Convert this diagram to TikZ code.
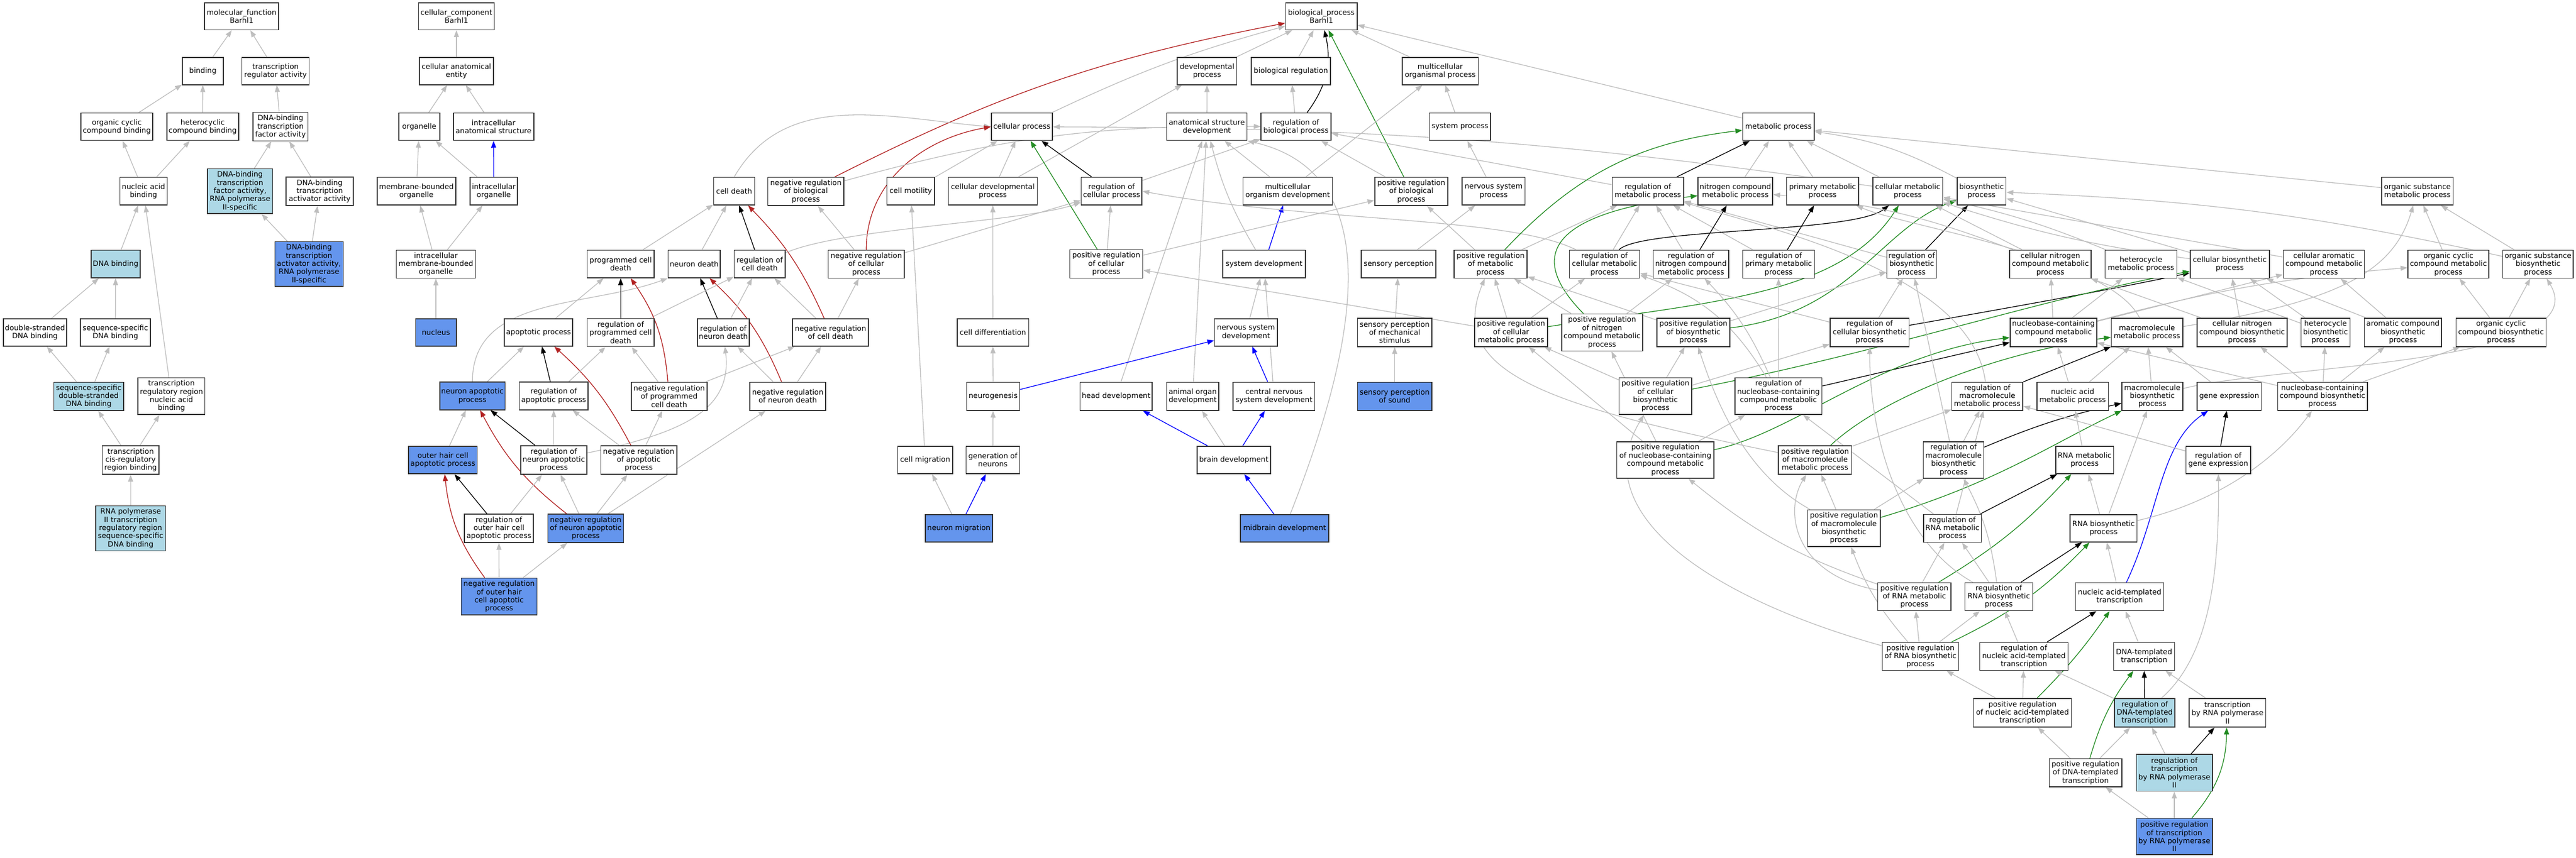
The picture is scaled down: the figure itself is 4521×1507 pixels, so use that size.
\documentclass[tikz,border=0pt]{standalone}
\usepackage{fontspec}
\usetikzlibrary{arrows.meta,backgrounds}
\newfontfamily\djv{DejaVu Sans}
\definecolor{edgegray}{RGB}{190,190,190}
\definecolor{lbcol}{RGB}{173,216,230}
\definecolor{blcol}{RGB}{100,149,237}
\definecolor{redc}{RGB}{178,34,34}
\definecolor{greenc}{RGB}{34,139,34}
\tikzset{
 pl/.style={draw=black!80, line width=0.8pt, fill=white, inner sep=0pt, align=center, font=\djv\fontsize{6.4}{7.2}\selectfont},
 lb/.style={pl, fill=lbcol},
 bl/.style={pl, fill=blcol},
 ebase/.style={line width=0.65pt, -{Triangle[length=6pt,width=4.4pt]}},
 eg/.style={ebase, draw=edgegray},
 ek/.style={ebase, draw=black},
 er/.style={ebase, draw=redc},
 egr/.style={ebase, draw=greenc},
 eblu/.style={ebase, draw=blue},
}
\newcommand\gn[7]{\node[#2,minimum width=#5*0.5pt,minimum height=#6*0.5pt] (#1) at (#3,-#4) {#7};}
\begin{document}
\begin{tikzpicture}[x=0.5pt,y=0.5pt]
\useasboundingbox (0,0) rectangle (4521,-1507);
% ---------- molecular function ----------
\gn{mf}{pl}{424}{28.6}{130}{47.5}{molecular\_function\\Barhl1}
\gn{binding}{pl}{356}{124.8}{72}{48}{binding}
\gn{tra}{pl}{483.6}{124.8}{118}{48}{transcription\\regulator activity}
\gn{occb}{pl}{205}{222.7}{126}{48}{organic cyclic\\compound binding}
\gn{hcb}{pl}{355.7}{222.7}{126}{48}{heterocyclic\\compound binding}
\gn{dbtf}{pl}{492.2}{222.7}{96.6}{50}{DNA-binding\\transcription\\factor activity}
\gn{nab}{pl}{251.9}{335.9}{83}{48.5}{nucleic acid\\binding}
\gn{dbtf2}{lb}{421.2}{335.9}{114.5}{78.5}{DNA-binding\\transcription\\factor activity,\\RNA polymerase\\II-specific}
\gn{dbta}{pl}{561}{335.9}{117.5}{50}{DNA-binding\\transcription\\activator activity}
\gn{dnab}{lb}{202.9}{463.8}{85.7}{48.5}{DNA binding}
\gn{dbta2}{bl}{542.3}{463.9}{120}{78.5}{DNA-binding\\transcription\\activator activity,\\RNA polymerase\\II-specific}
\gn{dsdb}{pl}{61.3}{583.8}{111}{48}{double-stranded\\DNA binding}
\gn{ssdb}{pl}{202.5}{583.8}{122.5}{48}{sequence-specific\\DNA binding}
\gn{ssds}{lb}{155.7}{696}{122.5}{49.4}{sequence-specific\\double-stranded\\DNA binding}
\gn{trrnab}{pl}{300.9}{695.8}{117.5}{64.5}{transcription\\regulatory region\\nucleic acid\\binding}
\gn{tcrrb}{pl}{229.2}{807.9}{99.5}{50.2}{transcription\\cis-regulatory\\region binding}
\gn{rnaprr}{lb}{229.2}{928}{122.5}{78.7}{RNA polymerase\\II transcription\\regulatory region\\sequence-specific\\DNA binding}
% ---------- cellular component ----------
\gn{cc}{pl}{801}{28.6}{133}{47.5}{cellular\_component\\Barhl1}
\gn{cae}{pl}{801}{124.8}{130}{48}{cellular anatomical\\entity}
\gn{organelle}{pl}{735.8}{222.7}{72}{48}{organelle}
\gn{ias}{pl}{866.2}{222.7}{141}{48}{intracellular\\anatomical structure}
\gn{mbo}{pl}{730.8}{335.9}{138}{48.5}{membrane-bounded\\organelle}
\gn{io}{pl}{866.6}{335.9}{83}{48.5}{intracellular\\organelle}
\gn{imbo}{pl}{765}{464}{139}{49}{intracellular\\membrane-bounded\\organelle}
\gn{nucleus}{bl}{765}{583.8}{71.4}{48}{nucleus}
% ---------- biological process ----------
\gn{bp}{pl}{2319}{28.6}{125.4}{47.5}{biological\_process\\Barhl1}
\gn{devp}{pl}{2118.4}{124.8}{104.5}{48}{developmental\\process}
\gn{breg}{pl}{2265.5}{124.8}{139}{48}{biological regulation}
\gn{mop}{pl}{2527.7}{124.8}{133.4}{48}{multicellular\\organismal process}
\gn{cp}{pl}{1793.4}{222.7}{107.4}{48}{cellular process}
\gn{asd}{pl}{2118}{222.7}{141.3}{48}{anatomical structure\\development}
\gn{rbp}{pl}{2274.5}{222.7}{122.5}{48}{regulation of\\biological process}
\gn{sysp}{pl}{2562.3}{222.7}{107.4}{48}{system process}
\gn{metp}{pl}{3121.2}{222.7}{125.4}{48}{metabolic process}
\gn{celldeath}{pl}{1288.5}{335.9}{72}{48.5}{cell death}
\gn{nrbp}{pl}{1414.3}{336.4}{133.3}{49.5}{negative regulation\\of biological\\process}
\gn{cellmot}{pl}{1598.4}{335.9}{83.6}{48.5}{cell motility}
\gn{cdp}{pl}{1742.5}{335.9}{155.7}{48.5}{cellular developmental\\process}
\gn{rcp}{pl}{1950.9}{335.9}{106.7}{48.5}{regulation of\\cellular process}
\gn{mod}{pl}{2260}{335.9}{157}{48.5}{multicellular\\organism development}
\gn{prbp}{pl}{2476.9}{336.4}{128.3}{49.5}{positive regulation\\of biological\\process}
\gn{nsp}{pl}{2621.4}{335.9}{110.3}{48.5}{nervous system\\process}
\gn{rmp}{pl}{2892}{335.9}{125.4}{48.5}{regulation of\\metabolic process}
\gn{ncmp}{pl}{3045.6}{335.9}{131.2}{48.5}{nitrogen compound\\metabolic process}
\gn{pmp}{pl}{3198.7}{335.9}{126.1}{48.5}{primary metabolic\\process}
\gn{cmp}{pl}{3348.2}{335.9}{122.5}{48.5}{cellular metabolic\\process}
\gn{bsp}{pl}{3477.7}{335.9}{85.8}{48.5}{biosynthetic\\process}
\gn{osmp}{pl}{4242.6}{335.9}{125.5}{48.5}{organic substance\\metabolic process}
\gn{pcd}{pl}{1089.3}{463.8}{117.4}{48.5}{programmed cell\\death}
\gn{ndeath}{pl}{1218.3}{463.8}{91.5}{48.5}{neuron death}
\gn{rcd}{pl}{1333.2}{463.8}{89.4}{48.5}{regulation of\\cell death}
\gn{nrcp}{pl}{1520.3}{464.1}{133.3}{49}{negative regulation\\of cellular\\process}
\gn{prcp}{pl}{1941.5}{463.6}{128.3}{50}{positive regulation\\of cellular\\process}
\gn{sysdev}{pl}{2218.5}{463.8}{145}{48.5}{system development}
\gn{sensp}{pl}{2454.6}{463.8}{131.2}{48.5}{sensory perception}
\gn{prmp}{pl}{2616}{464.1}{128.3}{49}{positive regulation\\of metabolic\\process}
\gn{rcmp}{pl}{2816}{464.1}{123.2}{49}{regulation of\\cellular metabolic\\process}
\gn{rncmp}{pl}{2967.7}{464.1}{132.6}{49}{regulation of\\nitrogen compound\\metabolic process}
\gn{rpmp}{pl}{3121.5}{464.1}{126.1}{49}{regulation of\\primary metabolic\\process}
\gn{rbsp}{pl}{3355}{464.1}{87}{49}{regulation of\\biosynthetic\\process}
\gn{cncmp}{pl}{3598.5}{464.1}{142.9}{49}{cellular nitrogen\\compound metabolic\\process}
\gn{hmp}{pl}{3757.5}{464.1}{126.2}{49}{heterocycle\\metabolic process}
\gn{cbp}{pl}{3913.3}{464.1}{139.2}{49}{cellular biosynthetic\\process}
\gn{camp}{pl}{4078.5}{464.1}{142.1}{49}{cellular aromatic\\compound metabolic\\process}
\gn{occmp}{pl}{4297}{464.1}{142.1}{49}{organic cyclic\\compound metabolic\\process}
\gn{osbp}{pl}{4454.3}{464.1}{123.4}{49}{organic substance\\biosynthetic\\process}
\gn{apop}{pl}{945.2}{583.8}{120}{48}{apoptotic process}
\gn{rpcd}{pl}{1089.3}{584.2}{117.4}{49}{regulation of\\programmed cell\\death}
\gn{rnd}{pl}{1269.5}{583.8}{91.5}{48}{regulation of\\neuron death}
\gn{nrcd}{pl}{1457.6}{583.8}{133.3}{48}{negative regulation\\of cell death}
\gn{celldiff}{pl}{1742.6}{583.8}{125.4}{48}{cell differentiation}
\gn{nsd}{pl}{2186.8}{583.8}{110.3}{48}{nervous system\\development}
\gn{spms}{pl}{2447.7}{583.8}{130.5}{50}{sensory perception\\of mechanical\\stimulus}
\gn{prcmp}{pl}{2652}{583.8}{128.3}{50}{positive regulation\\of cellular\\metabolic process}
\gn{prncmp}{pl}{2811.7}{584}{142}{65}{positive regulation\\of nitrogen\\compound metabolic\\process}
\gn{prbsp}{pl}{2972}{583.8}{128.3}{50}{positive regulation\\of biosynthetic\\process}
\gn{rcbp}{pl}{3281.2}{583.8}{138.4}{50}{regulation of\\cellular biosynthetic\\process}
\gn{nbcmp}{pl}{3603.9}{583.8}{152.2}{50}{nucleobase-containing\\compound metabolic\\process}
\gn{mmp}{pl}{3768}{583.8}{125.5}{50}{macromolecule\\metabolic process}
\gn{cncbp}{pl}{3935}{583.8}{158}{50}{cellular nitrogen\\compound biosynthetic\\process}
\gn{hbp}{pl}{4081.4}{583.8}{85.8}{50}{heterocycle\\biosynthetic\\process}
\gn{acbp}{pl}{4217.3}{583.8}{135.6}{50}{aromatic compound\\biosynthetic\\process}
\gn{occbp}{pl}{4389.4}{583.8}{158}{50}{organic cyclic\\compound biosynthetic\\process}
\gn{nap}{bl}{829.1}{695.5}{114.6}{48.5}{neuron apoptotic\\process}
\gn{rap}{pl}{971.8}{695.5}{120.4}{48.5}{regulation of\\apoptotic process}
\gn{nrpcd}{pl}{1174.4}{696}{133.3}{49.4}{negative regulation\\of programmed\\cell death}
\gn{nrnd}{pl}{1382.6}{696}{133.3}{49.4}{negative regulation\\of neuron death}
\gn{neurogen}{pl}{1743}{696}{93}{49.4}{neurogenesis}
\gn{headdev}{pl}{1958.8}{696}{126.8}{49.4}{head development}
\gn{aod}{pl}{2093.2}{696}{91.5}{49.4}{animal organ\\development}
\gn{cnsd}{pl}{2235.9}{696}{143.4}{49.4}{central nervous\\system development}
\gn{sps}{bl}{2447.7}{696}{130.5}{49.4}{sensory perception\\of sound}
\gn{prcbp}{pl}{2905.4}{695.8}{127.5}{64.5}{positive regulation\\of cellular\\biosynthetic\\process}
\gn{rnbcmp}{pl}{3121.2}{695.8}{152.8}{64.5}{regulation of\\nucleobase-containing\\compound metabolic\\process}
\gn{rmmp}{pl}{3487.7}{696}{124.8}{49.4}{regulation of\\macromolecule\\metabolic process}
\gn{namp}{pl}{3637.5}{696}{125.5}{49.4}{nucleic acid\\metabolic process}
\gn{mbp}{pl}{3777.4}{696}{106.7}{49.4}{macromolecule\\biosynthetic\\process}
\gn{geneexp}{pl}{3912.3}{696}{112.5}{49.4}{gene expression}
\gn{nbcbp}{pl}{4076}{696}{157.3}{49.4}{nucleobase-containing\\compound biosynthetic\\process}
\gn{ohc}{bl}{777.3}{808}{120.3}{48.3}{outer hair cell\\apoptotic process}
\gn{rnap}{pl}{971.8}{808}{116}{50}{regulation of\\neuron apoptotic\\process}
\gn{nrap}{pl}{1121}{808}{133.4}{50}{negative regulation\\of apoptotic\\process}
\gn{cellmig}{pl}{1623.7}{808}{96.6}{48.3}{cell migration}
\gn{gon}{pl}{1742.5}{808}{93.7}{48.3}{generation of\\neurons}
\gn{braindev}{pl}{2165.3}{808}{129}{48.3}{brain development}
\gn{prnbcmp}{pl}{2922.7}{808}{170.8}{63.7}{positive regulation\\of nucleobase-containing\\compound metabolic\\process}
\gn{prmmp}{pl}{3185.4}{808}{128.3}{50}{positive regulation\\of macromolecule\\metabolic process}
\gn{rmbp}{pl}{3428.6}{808}{106}{63.7}{regulation of\\macromolecule\\biosynthetic\\process}
\gn{rnamp}{pl}{3658.6}{808}{101.7}{48.3}{RNA metabolic\\process}
\gn{rge}{pl}{3893.1}{808}{113.2}{48.3}{regulation of\\gene expression}
\gn{rohc}{pl}{875.6}{928}{121}{49.8}{regulation of\\outer hair cell\\apoptotic process}
\gn{nrnap}{bl}{1028}{928}{133.3}{49.8}{negative regulation\\of neuron apoptotic\\process}
\gn{nmig}{bl}{1682.8}{928}{118}{48}{neuron migration}
\gn{midbrain}{bl}{2254.5}{928}{155}{48}{midbrain development}
\gn{prmbp}{pl}{3236.2}{927.7}{127.6}{64.7}{positive regulation\\of macromolecule\\biosynthetic\\process}
\gn{rrnamp}{pl}{3426.5}{928}{101.7}{48.8}{regulation of\\RNA metabolic\\process}
\gn{rnabp}{pl}{3691.8}{928}{117.6}{48}{RNA biosynthetic\\process}
\gn{nrohc}{bl}{876}{1047.8}{133.3}{64.7}{negative regulation\\of outer hair\\cell apoptotic\\process}
\gn{prrnamp}{pl}{3359.8}{1048}{128.3}{49.2}{positive regulation\\of RNA metabolic\\process}
\gn{rrnabp}{pl}{3507.9}{1048}{119}{49.2}{regulation of\\RNA biosynthetic\\process}
\gn{natt}{pl}{3720}{1048}{155}{49.2}{nucleic acid-templated\\transcription}
\gn{prrnabp}{pl}{3370.5}{1153}{134}{49.2}{positive regulation\\of RNA biosynthetic\\process}
\gn{rnatt}{pl}{3552}{1153}{155}{49.2}{regulation of\\nucleic acid-templated\\transcription}
\gn{dtt}{pl}{3762.9}{1153}{106.8}{49.2}{DNA-templated\\transcription}
\gn{prnatt}{pl}{3549.4}{1252}{171.7}{50.2}{positive regulation\\of nucleic acid-templated\\transcription}
\gn{rdtt}{lb}{3764}{1252}{106}{50.2}{regulation of\\DNA-templated\\transcription}
\gn{trp}{pl}{3909.3}{1252}{134.2}{50.2}{transcription\\by RNA polymerase\\II}
\gn{prdtt}{pl}{3660.1}{1357.3}{127.7}{49.3}{positive regulation\\of DNA-templated\\transcription}
\gn{rtrp}{lb}{3816}{1357.3}{133.4}{64.7}{regulation of\\transcription\\by RNA polymerase\\II}
\gn{prtrp}{bl}{3816}{1469.4}{133.4}{63.7}{positive regulation\\of transcription\\by RNA polymerase\\II}
\begin{pgfonlayer}{background}
% MF
\draw[eg] (binding) -- (mf);
\draw[eg] (tra) -- (mf);
\draw[eg] (occb) -- (binding);
\draw[eg] (hcb) -- (binding);
\draw[eg] (dbtf) -- (tra);
\draw[eg] (nab) -- (occb);
\draw[eg] (nab) -- (hcb);
\draw[eg] (dbtf2) -- (dbtf);
\draw[eg] (dbta) -- (dbtf);
\draw[eg] (dbta2) -- (dbtf2);
\draw[eg] (dbta2) -- (dbta);
\draw[eg] (dnab) -- (nab);
\draw[eg] (trrnab) -- (nab);
\draw[eg] (dsdb) -- (dnab);
\draw[eg] (ssdb) -- (dnab);
\draw[eg] (ssds) -- (dsdb);
\draw[eg] (ssds) -- (ssdb);
\draw[eg] (tcrrb) -- (ssds);
\draw[eg] (tcrrb) -- (trrnab);
\draw[eg] (rnaprr) -- (tcrrb);
% CC
\draw[eg] (cae) -- (cc);
\draw[eg] (organelle) -- (cae);
\draw[eg] (ias) -- (cae);
\draw[eg] (mbo) -- (organelle);
\draw[eg] (io) -- (organelle);
\draw[eblu] (io) -- (ias);
\draw[eg] (imbo) -- (mbo);
\draw[eg] (imbo) -- (io);
\draw[eg] (nucleus) -- (imbo);
% BP upper
\draw[er] (nrbp) to[bend left=8] (bp);
\draw[eg] (cp) to[bend left=5] (bp);
\draw[eg] (devp) -- (bp);
\draw[eg] (breg) -- (bp);
\draw[ek] (rbp) to[bend right=25] (bp);
\draw[egr] (prbp) -- (bp);
\draw[eg] (mop) -- (bp);
\draw[eg] (metp) -- (bp);
\draw[eg] (rbp) -- (breg);
\draw[eg] (asd) -- (devp);
\draw[eg] (cdp) -- (devp);
\draw[eg] (celldeath.north) to[out=60,in=175] (cp.west);
\draw[er] (nrcp.north) to[out=90,in=190] (cp.west);
\draw[eg] (cellmot) -- (cp);
\draw[eg] (cdp) -- (cp);
\draw[egr] (prcp) -- (cp);
\draw[ek] (rcp) -- (cp);
\draw[eg] (cmp) to[bend right=4] (cp);
\draw[eg] (nrbp) to[bend left=8] (rbp);
\draw[eg] (rcp) -- (rbp);
\draw[eg] (prbp) -- (rbp);
\draw[eg] (rmp) -- (rbp);
\draw[eg] (mod) -- (mop);
\draw[eg] (sysp) -- (mop);
\draw[eg] (mod) -- (asd);
\draw[eg] (sysdev) to[bend left=8] (asd);
\draw[eg] (headdev) -- (asd);
\draw[eg] (aod) -- (asd);
\draw[eg] (midbrain) .. controls (2400,-560) and (2420,-300) .. (asd.south east);
\draw[eblu] (sysdev) -- (mod);
\draw[eg] (nsd) -- (sysdev);
\draw[eg] (cnsd) -- (sysdev);
\draw[eblu] (cnsd) -- (nsd);
\draw[eblu] (neurogen) -- (nsd);
\draw[eblu] (braindev) -- (headdev);
\draw[eblu] (braindev) -- (cnsd);
\draw[eg] (braindev) -- (aod);
\draw[eblu] (midbrain) -- (braindev);
\draw[eg] (nsp) -- (sysp);
\draw[eg] (sensp) -- (nsp);
\draw[eg] (spms) -- (sensp);
\draw[eg] (sps) -- (spms);
\draw[eg] (cellmig) -- (cellmot);
\draw[eg] (nmig) -- (cellmig);
\draw[eblu] (nmig) -- (gon);
\draw[eg] (gon) -- (neurogen);
\draw[eg] (neurogen) -- (celldiff);
\draw[eg] (celldiff) -- (cdp);
\draw[eg] (prcp) -- (prbp);
\draw[eg] (prcp) -- (rcp);
\draw[eg] (rcmp) .. controls (2650,-380) and (2300,-390) .. (rcp.east);
\draw[eg] (prcmp) -- (prcp);
\draw[eg] (nrcp) -- (nrbp);
\draw[eg] (nrcp) -- (rcp);
% death / apoptosis
\draw[eg] (pcd) -- (celldeath);
\draw[eg] (ndeath) -- (celldeath);
\draw[ek] (rcd) -- (celldeath);
\draw[er] (nrcd) to[bend right=10] (celldeath);
\draw[eg] (nap.north) to[out=90,in=200] (ndeath.south west);
\draw[ek] (rnd) -- (ndeath);
\draw[er] (nrnd) to[bend right=12] (ndeath);
\draw[eg] (rpcd) -- (rcd);
\draw[eg] (rnd) -- (rcd);
\draw[eg] (nrcd) -- (rcd);
\draw[eg] (rcd) .. controls (1480,-400) and (1800,-390) .. (rcp);
\draw[eg] (nrcd) -- (nrcp);
\draw[eg] (nrpcd) -- (nrcd);
\draw[eg] (nrnd) -- (nrcd);
\draw[eg] (rnap) .. controls (1200,-760) and (1285,-720) .. (rnd);
\draw[eg] (nrnd) -- (rnd);
\draw[eg] (nrnap) -- (nrnd);
\draw[eg] (nrap) -- (nrpcd);
\draw[er] (nrpcd) to[bend right=15] (pcd);
\draw[eg] (nrpcd) -- (rpcd);
\draw[eg] (apop) -- (pcd);
\draw[ek] (rpcd) -- (pcd);
\draw[eg] (nap) -- (apop);
\draw[ek] (rap) -- (apop);
\draw[er] (nrap) to[bend right=10] (apop);
\draw[eg] (rap) -- (rpcd);
\draw[eg] (ohc) -- (nap);
\draw[er] (nrnap) to[bend left=12] (nap);
\draw[ek] (rnap) -- (nap);
\draw[eg] (rnap) -- (rap);
\draw[eg] (nrap) -- (rap);
\draw[ek] (rohc) -- (ohc);
\draw[er] (nrohc) to[bend left=15] (ohc);
\draw[eg] (rohc) -- (rnap);
\draw[eg] (nrnap) -- (rnap);
\draw[eg] (nrnap) -- (nrap);
\draw[eg] (nrohc) -- (rohc);
\draw[eg] (nrohc) -- (nrnap);
% metabolism
\draw[ek] (rmp) -- (metp);
\draw[eg] (ncmp) -- (metp);
\draw[eg] (pmp) -- (metp);
\draw[eg] (cmp) -- (metp);
\draw[egr] (prmp) to[bend left=20] (metp);
\draw[eg] (osmp) -- (metp);
\draw[eg] (bsp) to[bend right=10] (metp);
\draw[eg] (prmp) -- (rmp);
\draw[eg] (prmp) -- (prbp);
\draw[eg] (rcmp) -- (rmp);
\draw[eg] (rncmp) -- (rmp);
\draw[eg] (rpmp) -- (rmp);
\draw[eg] (rbsp) -- (rmp);
\draw[ek] (rncmp) -- (ncmp);
\draw[ek] (rpmp) -- (pmp);
\draw[ek] (rcmp) .. controls (2880,-400) and (3250,-410) .. (cmp);
\draw[egr] (prncmp) .. controls (2660,-430) and (2760,-370) .. (ncmp);
\draw[egr] (prcmp) .. controls (3000,-530) and (3230,-520) .. (cmp);
\draw[egr] (prbsp) .. controls (3250,-550) and (3300,-400) .. (bsp);
\draw[ek] (rbsp) -- (bsp);
\draw[eg] (prbsp) -- (rbsp);
\draw[eg] (rcbp) -- (rbsp);
\draw[eg] (rcbp) -- (rcmp);
\draw[ek] (rcbp) .. controls (3500,-545) and (3700,-510) .. (cbp);
\draw[eg] (prcbp) -- (prbsp);
\draw[eg] (prcbp) -- (prcmp);
\draw[eg] (prcbp) -- (rcbp);
\draw[egr] (prcbp) .. controls (3300,-620) and (3600,-520) .. (cbp);
\draw[eg] (rnbcmp) to[bend right=20] (rcmp);
\draw[eg] (rnbcmp) to[bend right=10] (rncmp);
\draw[eg] (rnbcmp) -- (rpmp);
\draw[ek] (rnbcmp) -- (nbcmp);
\draw[eg] (prncmp) -- (prmp);
\draw[eg] (prncmp) -- (rncmp);
\draw[eg] (prbsp) -- (prmp);
\draw[eg] (prcmp) -- (prmp);
\draw[eg] (prcmp) -- (rcmp);
\draw[eg] (prnbcmp) -- (prcmp);
\draw[eg] (prnbcmp) -- (prncmp);
\draw[eg] (prnbcmp) -- (rnbcmp);
\draw[egr] (prnbcmp) .. controls (3150,-760) and (3300,-620) .. (nbcmp);
\draw[eg] (prmmp) .. controls (2700,-710) and (2540,-650) .. (prmp);
\draw[eg] (prmmp) -- (rmmp);
\draw[egr] (prmmp) .. controls (3300,-700) and (3500,-620) .. (mmp);
\draw[eg] (rmbp) -- (rbsp);
\draw[eg] (rmbp) -- (rmmp);
\draw[ek] (rmbp) to[bend left=5] (mbp);
\draw[eg] (prmbp) .. controls (3060,-830) and (3010,-700) .. (prbsp);
\draw[eg] (prmbp) -- (prmmp);
\draw[eg] (prmbp) -- (rmbp);
\draw[egr] (prmbp) .. controls (3500,-850) and (3600,-780) .. (mbp);
\draw[ek] (rrnamp) -- (rnamp);
\draw[eg] (rrnamp) -- (rnbcmp);
\draw[eg] (rrnamp) -- (rmmp);
\draw[eg] (prrnamp) -- (rrnamp);
\draw[egr] (prrnamp) to[bend right=8] (rnamp);
\draw[eg] (prrnamp) .. controls (3150,-1010) and (3130,-900) .. (prmmp);
\draw[eg] (prrnamp) to[bend left=10] (prnbcmp);
\draw[eg] (prrnabp) to[bend left=10] (prmbp);
\draw[eg] (prrnabp) -- (prrnamp);
\draw[eg] (prrnabp) -- (rrnabp);
\draw[eg] (prrnabp) .. controls (3000,-1050) and (2780,-900) .. (prcbp);
\draw[egr] (prrnabp) to[bend right=10] (rnabp);
\draw[eg] (rrnabp) to[bend right=10] (rmbp);
\draw[eg] (rrnabp) -- (rrnamp);
\draw[ek] (rrnabp) -- (rnabp);
\draw[eg] (rrnabp) .. controls (3350,-960) and (3282,-800) .. (rcbp);
\draw[ek] (rnatt) -- (natt);
\draw[eg] (rnatt) -- (rrnabp);
\draw[eg] (natt) -- (rnabp);
\draw[eblu] (natt) .. controls (3790,-900) and (3790,-780) .. (geneexp);
\draw[eg] (dtt) -- (natt);
\draw[eg] (prnatt) -- (prrnabp);
\draw[eg] (prnatt) -- (rnatt);
\draw[egr] (prnatt) to[bend right=5] (natt);
\draw[ek] (rdtt) -- (dtt);
\draw[eg] (rdtt) -- (rnatt);
\draw[eg] (rdtt) .. controls (3880,-1150) and (3895,-1000) .. (rge);
\draw[eg] (trp) -- (dtt);
\draw[eg] (prdtt) -- (prnatt);
\draw[eg] (prdtt) -- (rdtt);
\draw[egr] (prdtt) to[bend left=10] (dtt);
\draw[eg] (rtrp) -- (rdtt);
\draw[ek] (rtrp) -- (trp);
\draw[eg] (prtrp) -- (prdtt);
\draw[eg] (prtrp) -- (rtrp);
\draw[egr] (prtrp) to[bend right=20] (trp);
\draw[eg] (rnabp) -- (rnamp);
\draw[eg] (rnabp) -- (mbp);
\draw[eg] (rnabp) .. controls (3900,-880) and (4000,-800) .. (nbcbp);
\draw[eg] (rnamp) -- (namp);
\draw[ek] (rge) -- (geneexp);
\draw[eg] (rge) -- (rmmp);
\draw[eg] (rmmp) .. controls (3460,-480) and (3100,-400) .. (rmp);
\draw[ek] (rmmp) -- (mmp);
\draw[eg] (namp) -- (nbcmp);
\draw[eg] (namp) -- (mmp);
\draw[eg] (mbp) -- (mmp);
\draw[eg] (mbp) .. controls (4000,-640) and (4560,-640) .. (osbp);
\draw[eg] (geneexp) -- (mmp);
\draw[eg] (nbcbp) -- (nbcmp);
\draw[eg] (nbcbp) -- (cncbp);
\draw[eg] (nbcbp) -- (hbp);
\draw[eg] (nbcbp) -- (acbp);
\draw[eg] (nbcbp) -- (occbp);
\draw[eg] (nbcmp) -- (cncmp);
\draw[eg] (nbcmp) -- (hmp);
\draw[eg] (nbcmp) -- (camp);
\draw[eg] (nbcmp) to[bend left=5] (occmp);
\draw[eg] (mmp) .. controls (3700,-450) and (3350,-400) .. (pmp);
\draw[eg] (mmp) .. controls (4100,-530) and (4200,-480) .. (osmp);
\draw[eg] (cncbp) -- (cncmp);
\draw[eg] (cncbp) -- (cbp);
\draw[eg] (hbp) -- (hmp);
\draw[eg] (hbp) -- (cbp);
\draw[eg] (acbp) -- (cbp);
\draw[eg] (acbp) -- (camp);
\draw[eg] (occbp) -- (occmp);
\draw[eg] (occbp) -- (osbp);
\draw[eg] (cncmp) -- (cmp);
\draw[eg] (cncmp) to[bend right=8] (ncmp);
\draw[eg] (hmp) to[bend right=5] (cmp);
\draw[eg] (cbp) to[bend left=5] (cmp);
\draw[eg] (camp) -- (cmp);
\draw[eg] (cbp) -- (bsp);
\draw[eg] (osbp) to[bend right=5] (bsp);
\draw[eg] (occmp) -- (osmp);
\draw[eg] (osbp) -- (osmp);
\end{pgfonlayer}
\end{tikzpicture}
\end{document}
